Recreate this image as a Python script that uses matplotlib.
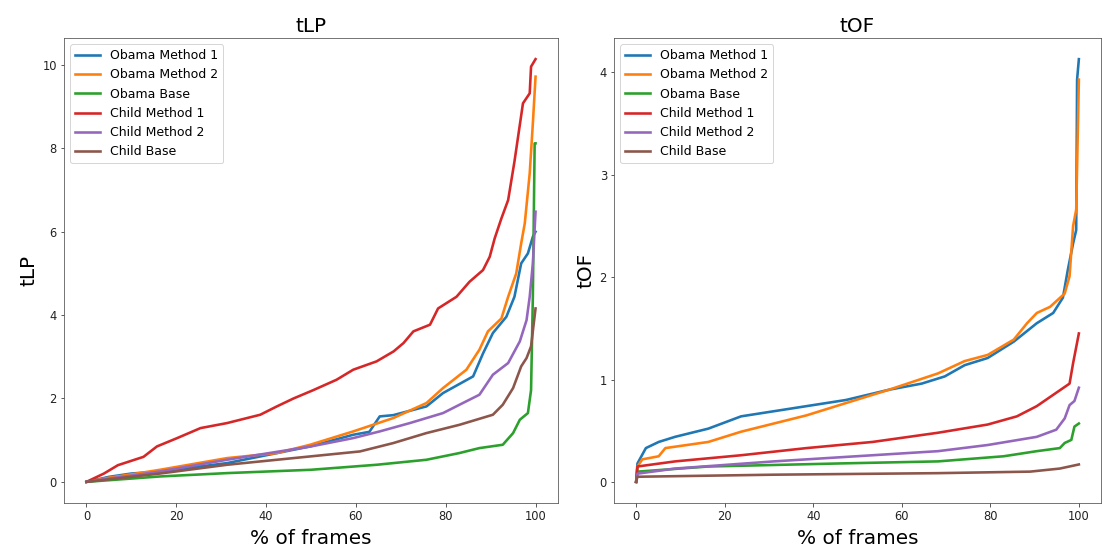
import matplotlib
matplotlib.use("Agg")
import matplotlib.pyplot as plt

_DPI = 72
_FIG_W, _FIG_H = 1103, 549

labels = ["Obama Method 1", "Obama Method 2", "Obama Base",
          "Child Method 1", "Child Method 2", "Child Base"]
colors = ["#1f77b4", "#ff7f0e", "#2ca02c", "#d62728", "#9467bd", "#8c564b"]

# ---- tLP panel: (% of frames, value)
tlp_m1_x = [0, 5, 10, 16.4, 31.3, 49.8, 59.4, 63, 65.3, 68.3, 75.7, 79.4, 86.1, 88.3, 90.5, 93.5, 95.3, 96.8, 98.3, 99.4, 100]
tlp_m1_y = [0, 0.12, 0.2, 0.25, 0.45, 0.85, 1.13, 1.2, 1.57, 1.6, 1.81, 2.13, 2.53, 3.08, 3.57, 3.96, 4.44, 5.24, 5.48, 5.88, 6.0]
tlp_m2_x = [0, 5, 10, 16.4, 31.3, 42.4, 49.8, 59.4, 68.3, 75.7, 79.4, 84.6, 87.5, 89.4, 92.4, 93.9, 95.7, 96.8, 97.6, 98.7, 99.4, 100]
tlp_m2_y = [0, 0.1, 0.18, 0.29, 0.57, 0.69, 0.89, 1.21, 1.53, 1.89, 2.25, 2.69, 3.17, 3.61, 3.92, 4.44, 5.0, 5.72, 6.2, 7.4, 8.6, 9.72]
tlp_base_x = [0, 16.4, 31.3, 50, 64.6, 75.7, 83, 87.5, 92.7, 95, 96.5, 98.3, 99, 99.4, 99.8, 100]
tlp_base_y = [0, 0.13, 0.21, 0.29, 0.41, 0.53, 0.69, 0.81, 0.89, 1.17, 1.49, 1.65, 2.2, 4.44, 8.12, 8.12]
tlp_c1_x = [0, 3.9, 7, 12.7, 15.7, 20.2, 25.4, 31.3, 38.7, 42.4, 46.1, 50.5, 55.7, 59.4, 64.6, 68.4, 70.6, 72.8, 76.5, 78.3, 82.4, 85.3, 88.3, 89.8, 90.9, 92.4, 93.9, 95.3, 97.2, 98.7, 99.0, 100]
tlp_c1_y = [0, 0.2, 0.4, 0.6, 0.85, 1.05, 1.29, 1.41, 1.61, 1.81, 2.0, 2.2, 2.45, 2.69, 2.89, 3.13, 3.33, 3.61, 3.77, 4.16, 4.44, 4.8, 5.08, 5.4, 5.84, 6.32, 6.76, 7.68, 9.08, 9.32, 9.96, 10.14]
tlp_c2_x = [0, 5, 10, 16.4, 31.3, 50, 59.4, 65.3, 72, 79.4, 83.8, 87.5, 90.5, 93.9, 96.5, 98, 98.7, 99.4, 100]
tlp_c2_y = [0, 0.08, 0.15, 0.25, 0.53, 0.85, 1.05, 1.21, 1.41, 1.65, 1.89, 2.09, 2.57, 2.85, 3.37, 3.88, 4.44, 5.24, 6.48]
tlp_cb_x = [0, 16.4, 31.3, 49.8, 60.9, 68.3, 75.7, 83.1, 90.5, 92.7, 95, 96.8, 98, 99, 100]
tlp_cb_y = [0, 0.2, 0.41, 0.61, 0.73, 0.93, 1.17, 1.37, 1.61, 1.85, 2.25, 2.77, 2.97, 3.25, 4.16]

# ---- tOF panel
tof_m1_x = [0, 0.3, 2.2, 5.1, 8.8, 16.3, 23.7, 31.1, 38.5, 47.4, 57.1, 64.5, 69.7, 74.2, 79.4, 85.3, 90.5, 94.2, 96.4, 97.5, 98.7, 99.4, 99.6, 100]
tof_m1_y = [0, 0.18, 0.33, 0.39, 0.44, 0.52, 0.64, 0.69, 0.74, 0.80, 0.90, 0.96, 1.03, 1.14, 1.21, 1.37, 1.55, 1.65, 1.80, 2.07, 2.33, 2.46, 3.93, 4.13]
tof_m2_x = [0, 0.3, 1.4, 5.1, 6.6, 16.3, 23.7, 31.1, 38.5, 47.4, 57.1, 68.2, 74.2, 79.4, 85.3, 88.3, 90.5, 93.5, 96.8, 97.9, 98.7, 99.4, 99.8, 100]
tof_m2_y = [0, 0.15, 0.22, 0.25, 0.33, 0.39, 0.49, 0.57, 0.65, 0.77, 0.90, 1.06, 1.18, 1.24, 1.39, 1.55, 1.65, 1.71, 1.84, 2.01, 2.50, 2.66, 3.5, 3.93]
tof_base_x = [0, 0.3, 16.3, 46, 68.2, 83, 90.5, 95.7, 96.8, 98.3, 99, 100]
tof_base_y = [0, 0.10, 0.15, 0.18, 0.20, 0.25, 0.30, 0.33, 0.38, 0.41, 0.54, 0.57]
tof_c1_x = [0, 0.3, 8.8, 23.7, 38.5, 53.4, 68.2, 79.4, 86, 90.5, 94.2, 97.9, 98.7, 100]
tof_c1_y = [0, 0.15, 0.20, 0.26, 0.33, 0.39, 0.48, 0.56, 0.64, 0.74, 0.85, 0.96, 1.16, 1.45]
tof_c2_x = [0, 0.3, 8.8, 31.1, 53.4, 68.2, 79.4, 90.5, 94.9, 96.8, 97.9, 99, 100]
tof_c2_y = [0, 0.08, 0.13, 0.20, 0.26, 0.30, 0.36, 0.44, 0.51, 0.62, 0.75, 0.79, 0.92]
tof_cb_x = [0, 0.3, 31, 68, 89, 95.7, 100]
tof_cb_y = [0, 0.05, 0.07, 0.085, 0.10, 0.13, 0.17]


def draw_panel(ax, series, name):
    for (xs, ys), label, color in zip(series, labels, colors):
        ax.plot(xs, ys, color=color, lw=2.6, label=label)
    ax.set_title(name, fontsize=20)
    ax.set_xlabel("% of frames", fontsize=20, labelpad=6)
    ax.set_ylabel(name, fontsize=20)
    ax.set_xticks([0, 20, 40, 60, 80, 100])
    ax.tick_params(labelsize=11.5, colors="#333333", labelcolor="#222222")
    for sp in ax.spines.values():
        sp.set_color("#555555")
    ax.legend(loc="upper left", fontsize=12.5, handlelength=2.0)


fig = plt.figure(figsize=(_FIG_W / _DPI, _FIG_H / _DPI), dpi=_DPI)
ax1 = fig.add_axes([64 / _FIG_W, 46 / _FIG_H, 494 / _FIG_W, 465 / _FIG_H])
ax2 = fig.add_axes([614 / _FIG_W, 46 / _FIG_H, 487 / _FIG_W, 465 / _FIG_H])

draw_panel(ax1, [(tlp_m1_x, tlp_m1_y), (tlp_m2_x, tlp_m2_y), (tlp_base_x, tlp_base_y),
                 (tlp_c1_x, tlp_c1_y), (tlp_c2_x, tlp_c2_y), (tlp_cb_x, tlp_cb_y)], "tLP")
draw_panel(ax2, [(tof_m1_x, tof_m1_y), (tof_m2_x, tof_m2_y), (tof_base_x, tof_base_y),
                 (tof_c1_x, tof_c1_y), (tof_c2_x, tof_c2_y), (tof_cb_x, tof_cb_y)], "tOF")

fig.savefig("out.png", dpi=_DPI, facecolor="white")
